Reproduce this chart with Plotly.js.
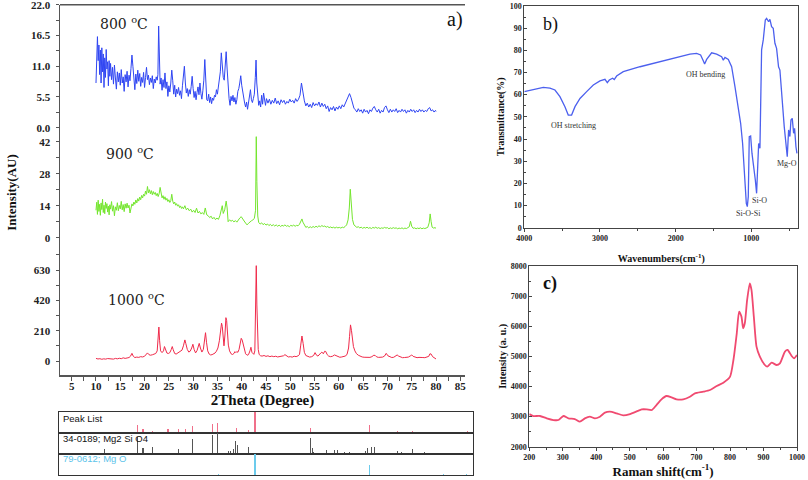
<!DOCTYPE html>
<html>
<head>
<meta charset="utf-8">
<script src="https://cdn.plot.ly/plotly-3.0.1.min.js"></script>
<style>html,body{margin:0;padding:0;background:#fff;}#chart{width:808px;height:480px;}</style>
</head>
<body>
<div id="chart"></div>
<script>
// ---------- XRD patterns (2theta, intensity) ----------
const xrd800 = [[10.0,8.0],[10.15,11.5],[10.3,16.3],[10.45,12.0],[10.6,14.8],[10.75,9.5],[10.9,13.9],[11.05,8.0],[11.2,14.3],[11.35,10.0],[11.5,13.2],[11.65,7.2],[11.8,12.5],[11.95,9.0],[12.1,14.0],[12.25,10.5],[12.4,11.8],[12.55,7.5],[12.7,12.0],[12.85,9.2],[13.0,11.5],[13.2,8.6],[13.4,10.8],[13.6,7.8],[13.8,11.2],[14.0,8.9],[14.2,6.9],[14.4,10.0],[14.6,8.2],[14.8,9.8],[15.0,7.6],[15.2,10.4],[15.4,8.0],[15.6,9.1],[15.8,6.5],[16.0,9.5],[16.2,8.2],[16.4,10.1],[16.6,7.3],[16.8,9.4],[17.0,8.4],[17.2,10.6],[17.4,13.0],[17.6,11.0],[17.8,9.2],[18.0,6.8],[18.2,9.6],[18.4,7.9],[18.6,10.3],[18.8,8.3],[19.0,9.7],[19.2,7.4],[19.4,9.0],[19.6,8.1],[19.8,9.9],[20.0,7.2],[20.2,9.0],[20.4,10.8],[20.6,8.6],[20.8,9.4],[21.0,7.7],[21.2,8.9],[21.4,8.1],[21.6,9.3],[21.8,7.0],[22.0,8.7],[22.2,8.0],[22.4,9.1],[22.6,8.5],[22.75,9.5],[22.9,18.2],[23.05,10.0],[23.2,7.8],[23.4,8.9],[23.6,6.7],[23.8,8.6],[24.0,7.2],[24.2,9.8],[24.4,7.0],[24.6,8.2],[24.8,5.6],[25.0,7.5],[25.2,6.4],[25.4,8.0],[25.6,10.3],[25.8,8.4],[26.0,6.0],[26.2,7.6],[26.4,5.5],[26.6,6.9],[26.8,6.1],[27.0,7.2],[27.2,5.8],[27.4,6.6],[27.6,5.2],[27.8,7.5],[28.0,9.0],[28.2,11.0],[28.4,8.0],[28.6,6.2],[28.8,7.0],[29.0,5.6],[29.2,6.8],[29.4,6.0],[29.6,7.4],[29.8,9.2],[30.0,7.0],[30.2,5.4],[30.4,6.5],[30.6,5.0],[30.8,6.3],[31.0,7.3],[31.2,5.9],[31.4,8.0],[31.6,6.1],[31.8,5.1],[32.0,6.6],[32.2,8.5],[32.4,12.2],[32.6,7.2],[32.8,5.0],[33.0,4.8],[33.2,6.0],[33.4,4.5],[33.6,5.5],[33.8,4.3],[34.0,5.3],[34.2,4.9],[34.4,5.8],[34.6,5.5],[34.8,6.8],[35.0,6.0],[35.2,7.5],[35.4,8.8],[35.6,10.0],[35.8,13.4],[36.0,11.0],[36.2,9.0],[36.4,8.5],[36.6,10.5],[36.8,13.6],[37.0,10.5],[37.2,7.0],[37.4,5.2],[37.6,4.0],[37.8,5.6],[38.0,4.8],[38.2,5.8],[38.4,4.6],[38.6,5.4],[38.8,4.2],[39.0,5.0],[39.2,6.5],[39.4,7.0],[39.6,8.0],[39.8,9.3],[40.0,7.6],[40.2,6.2],[40.4,5.0],[40.6,4.4],[40.8,3.7],[41.0,4.6],[41.2,3.3],[41.4,4.4],[41.6,5.5],[41.8,6.8],[42.0,5.0],[42.2,4.5],[42.4,5.2],[42.6,6.0],[42.8,9.0],[42.95,12.1],[43.1,8.0],[43.3,5.0],[43.5,4.0],[43.7,4.8],[43.9,3.7],[44.1,5.8],[44.3,4.2],[44.5,6.2],[44.7,4.6],[44.9,4.0],[45.1,5.2],[45.4,4.4],[45.7,5.1],[46.0,4.2],[46.3,4.9],[46.6,4.4],[46.9,5.3],[47.2,4.3],[47.5,4.8],[47.8,4.1],[48.1,5.0],[48.4,4.5],[48.7,4.9],[49.0,4.2],[49.3,4.7],[49.6,4.4],[49.9,5.1],[50.2,4.6],[50.5,4.9],[50.8,4.4],[51.1,5.2],[51.4,4.7],[51.7,5.1],[52.0,5.8],[52.3,8.0],[52.6,6.1],[52.9,4.8],[53.2,3.9],[53.5,4.4],[53.8,3.7],[54.1,4.2],[54.4,3.6],[54.7,4.5],[55.0,3.9],[55.3,4.3],[55.6,4.0],[55.9,4.6],[56.2,3.7],[56.5,4.4],[56.8,3.8],[57.1,4.2],[57.4,3.4],[57.7,3.9],[58.0,2.9],[58.3,3.6],[58.6,3.2],[58.9,3.8],[59.2,3.0],[59.5,3.7],[59.8,3.3],[60.1,3.9],[60.4,3.4],[60.7,4.1],[61.0,3.7],[61.3,4.3],[61.6,4.8],[61.9,5.6],[62.2,6.1],[62.5,5.4],[62.8,4.3],[63.1,3.5],[63.4,3.2],[63.7,2.8],[64.0,3.4],[64.3,2.9],[64.6,3.2],[64.9,2.6],[65.2,3.3],[65.5,2.8],[65.8,3.1],[66.1,2.5],[66.4,3.2],[66.7,2.9],[67.0,3.5],[67.3,3.8],[67.6,3.2],[67.9,2.8],[68.2,3.3],[68.5,2.6],[68.8,3.1],[69.1,2.8],[69.4,3.6],[69.7,3.9],[70.0,3.2],[70.3,2.7],[70.6,3.3],[70.9,2.8],[71.2,3.2],[71.5,2.9],[71.8,3.4],[72.1,2.7],[72.4,3.1],[72.7,2.8],[73.0,3.3],[73.3,2.9],[73.6,3.2],[73.9,2.6],[74.2,3.1],[74.5,2.8],[74.8,3.3],[75.1,2.9],[75.4,3.2],[75.7,2.7],[76.0,3.1],[76.3,2.8],[76.6,3.3],[76.9,2.9],[77.2,3.2],[77.5,2.8],[77.8,3.1],[78.1,2.9],[78.4,3.4],[78.7,3.6],[79.0,3.0],[79.3,3.2],[79.6,2.8],[79.9,3.1],[80.0,2.9]];

const xrd900 = [[10.0,12.0],[10.15,15.5],[10.3,10.2],[10.45,16.4],[10.6,11.5],[10.75,14.6],[10.9,9.8],[11.05,15.2],[11.2,12.3],[11.35,16.8],[11.5,11.0],[11.65,14.2],[11.8,10.5],[11.95,15.6],[12.1,12.8],[12.25,14.9],[12.4,11.2],[12.55,13.8],[12.7,10.0],[12.85,14.4],[13.0,12.5],[13.2,15.8],[13.4,11.6],[13.6,14.0],[13.8,9.6],[14.0,13.5],[14.2,12.0],[14.4,15.3],[14.6,11.8],[14.8,14.1],[15.0,12.6],[15.2,15.9],[15.4,12.2],[15.6,14.5],[15.8,11.4],[16.0,14.8],[16.2,12.9],[16.4,15.1],[16.6,13.0],[16.8,14.2],[17.0,10.8],[17.2,13.6],[17.4,14.8],[17.6,13.9],[17.8,15.6],[18.0,14.6],[18.2,16.5],[18.4,15.2],[18.6,17.1],[18.8,16.0],[19.0,17.8],[19.2,16.6],[19.4,18.5],[19.6,17.4],[19.8,19.0],[20.0,18.2],[20.2,20.4],[20.4,19.0],[20.6,22.4],[20.8,19.6],[21.0,21.0],[21.2,19.2],[21.4,20.6],[21.6,18.8],[21.8,20.2],[22.0,19.0],[22.2,19.8],[22.4,18.4],[22.6,19.4],[22.8,18.0],[23.0,19.2],[23.2,22.0],[23.4,18.6],[23.6,17.4],[23.8,18.4],[24.0,16.8],[24.2,17.9],[24.4,16.4],[24.6,17.2],[24.8,15.8],[25.0,16.6],[25.2,15.4],[25.4,16.2],[25.6,19.0],[25.8,16.0],[26.0,14.8],[26.2,15.6],[26.4,14.2],[26.6,14.9],[26.8,13.8],[27.0,14.4],[27.2,13.2],[27.4,13.9],[27.6,12.8],[27.8,13.5],[28.0,12.6],[28.3,14.0],[28.6,12.2],[28.9,12.9],[29.2,11.8],[29.5,12.5],[29.8,11.2],[30.1,12.0],[30.4,11.0],[30.7,12.9],[31.0,10.8],[31.3,11.5],[31.6,10.4],[31.9,11.0],[32.2,10.2],[32.5,13.0],[32.8,10.0],[33.1,9.6],[33.4,8.8],[33.7,9.4],[34.0,8.2],[34.3,8.9],[34.6,7.9],[34.9,8.6],[35.2,8.0],[35.5,9.6],[35.8,12.0],[36.0,14.0],[36.2,10.6],[36.5,12.2],[36.8,16.0],[37.0,13.0],[37.2,7.0],[37.5,7.8],[37.8,7.2],[38.1,7.6],[38.4,6.9],[38.7,7.5],[39.0,6.8],[39.3,7.9],[39.6,8.6],[39.9,9.2],[40.2,8.0],[40.5,7.3],[40.8,6.4],[41.1,5.6],[41.4,6.3],[41.7,7.0],[42.0,7.4],[42.3,7.8],[42.6,8.4],[42.85,12.0],[43.0,44.2],[43.12,24.5],[43.3,9.5],[43.5,6.6],[43.8,6.0],[44.1,6.5],[44.4,5.7],[44.7,6.2],[45.0,5.5],[45.3,6.0],[45.6,5.3],[45.9,5.8],[46.2,5.2],[46.5,5.7],[46.8,5.1],[47.1,5.6],[47.4,5.0],[47.7,5.5],[48.0,4.9],[48.3,5.4],[48.6,5.1],[48.9,5.6],[49.2,5.0],[49.5,5.3],[49.8,4.8],[50.1,5.4],[50.4,5.1],[50.7,5.5],[51.0,5.0],[51.3,5.4],[51.6,5.2],[51.9,5.9],[52.2,7.2],[52.4,8.2],[52.6,6.8],[52.9,5.3],[53.2,4.5],[53.5,4.9],[53.8,4.3],[54.1,4.8],[54.4,4.4],[54.7,4.9],[55.0,4.5],[55.3,5.0],[55.6,4.6],[55.9,5.2],[56.2,4.8],[56.5,5.3],[56.8,4.9],[57.1,5.1],[57.4,4.6],[57.7,4.9],[58.0,4.4],[58.3,4.7],[58.6,4.3],[58.9,4.6],[59.2,4.2],[59.5,4.6],[59.8,4.3],[60.1,4.5],[60.4,4.2],[60.7,4.6],[61.0,4.4],[61.3,4.9],[61.6,5.6],[61.9,7.8],[62.15,13.0],[62.35,21.2],[62.55,15.0],[62.8,8.0],[63.1,5.6],[63.4,4.9],[63.7,4.5],[64.0,4.8],[64.3,4.3],[64.6,4.6],[64.9,4.1],[65.2,4.5],[65.5,4.2],[65.8,4.6],[66.1,4.1],[66.4,4.4],[66.7,4.0],[67.0,4.5],[67.3,4.2],[67.6,4.6],[67.9,4.1],[68.2,4.4],[68.5,4.0],[68.8,4.3],[69.1,4.1],[69.4,4.5],[69.7,4.2],[70.0,4.4],[70.3,3.9],[70.6,4.3],[70.9,4.0],[71.2,4.4],[71.5,4.1],[71.8,4.3],[72.1,3.9],[72.4,4.2],[72.7,4.0],[73.0,4.3],[73.3,3.9],[73.6,4.2],[73.9,4.0],[74.2,4.4],[74.5,4.8],[74.75,7.2],[75.0,5.0],[75.3,4.1],[75.6,4.3],[75.9,3.9],[76.2,4.2],[76.5,4.0],[76.8,4.3],[77.1,3.9],[77.4,4.2],[77.7,4.0],[78.0,4.3],[78.3,4.5],[78.6,6.5],[78.8,10.4],[79.0,7.0],[79.2,4.6],[79.5,4.2],[79.8,4.4],[80.0,4.1]];

const xrd1000 = [[10.0,18],[10.4,14],[10.8,16],[11.2,12],[11.6,15],[12.0,13],[12.4,17],[12.8,14],[13.2,16],[13.6,13],[14.0,18],[14.4,15],[14.8,19],[15.2,16],[15.6,22],[16.0,18],[16.4,21],[16.8,24],[17.1,33],[17.4,53],[17.7,32],[18.0,24],[18.4,27],[18.8,25],[19.2,30],[19.6,28],[20.0,33],[20.3,42],[20.6,56],[20.9,44],[21.2,40],[21.6,43],[22.0,46],[22.3,52],[22.6,70],[22.8,150],[22.95,235],[23.1,140],[23.3,70],[23.6,58],[23.9,70],[24.1,100],[24.3,75],[24.6,55],[24.9,52],[25.2,58],[25.5,80],[25.7,100],[25.9,78],[26.2,52],[26.5,48],[26.8,55],[27.1,60],[27.4,66],[27.7,75],[28.0,105],[28.3,146],[28.5,120],[28.8,80],[29.1,62],[29.4,68],[29.7,90],[29.95,116],[30.2,80],[30.5,56],[30.8,72],[31.05,105],[31.25,122],[31.5,90],[31.8,62],[32.1,80],[32.35,140],[32.55,196],[32.75,130],[33.0,70],[33.3,48],[33.6,42],[33.9,44],[34.2,48],[34.5,55],[34.8,68],[35.1,90],[35.4,140],[35.65,215],[35.85,262],[36.0,240],[36.15,160],[36.35,105],[36.55,180],[36.75,300],[36.9,280],[37.05,200],[37.25,110],[37.5,70],[37.8,50],[38.1,45],[38.4,52],[38.6,65],[38.8,58],[39.0,66],[39.2,60],[39.45,80],[39.7,130],[39.9,157],[40.1,145],[40.3,120],[40.5,80],[40.8,50],[41.1,40],[41.4,44],[41.7,70],[41.9,95],[42.1,60],[42.3,48],[42.5,46],[42.7,70],[42.85,300],[43.0,660],[43.12,388],[43.25,200],[43.4,80],[43.6,45],[43.9,36],[44.2,34],[44.6,38],[45.0,32],[45.4,36],[45.8,30],[46.2,34],[46.6,30],[47.0,33],[47.4,28],[47.8,31],[48.2,30],[48.6,36],[48.9,44],[49.2,34],[49.6,28],[50.0,30],[50.4,27],[50.8,33],[51.2,30],[51.6,36],[51.9,45],[52.15,110],[52.4,173],[52.65,120],[52.9,60],[53.2,38],[53.6,30],[54.0,27],[54.4,30],[54.8,38],[55.1,58],[55.4,40],[55.7,34],[56.0,42],[56.3,56],[56.5,62],[56.8,50],[57.1,68],[57.3,66],[57.6,44],[57.9,34],[58.3,30],[58.7,33],[59.1,42],[59.4,36],[59.8,28],[60.2,26],[60.6,28],[61.0,30],[61.4,35],[61.7,48],[62.0,90],[62.2,170],[62.4,250],[62.6,210],[62.8,140],[63.0,100],[63.3,70],[63.6,52],[64.0,40],[64.4,32],[64.8,28],[65.2,26],[65.6,24],[66.0,26],[66.4,25],[66.8,30],[67.2,40],[67.5,38],[67.8,28],[68.2,25],[68.6,24],[69.0,27],[69.4,34],[69.75,53],[70.1,36],[70.5,27],[70.9,24],[71.3,26],[71.7,33],[72.0,42],[72.3,34],[72.7,26],[73.1,23],[73.5,24],[73.9,26],[74.3,27],[74.7,35],[75.0,42],[75.3,32],[75.7,26],[76.1,23],[76.5,25],[76.9,22],[77.3,24],[77.7,23],[78.1,25],[78.5,32],[78.75,50],[79.0,48],[79.3,30],[79.6,22],[80.0,14]];

// ---------- reference stick patterns (2theta, relative intensity %) ----------
const peakListPos = [17.7,23.2,24.2,25.8,28.4,30.1,31.3,32.5,35.9,36.7,39.9,41.9,43.0,52.3,55.2,58.8,62.3,67.0,69.5,71.5,74.2,78.6];
const peakListInt = [5,38,16,10,18,16,20,30,43,46,21,15,100,21,5,5,36,7,8,5,5,8];
const mg2sio4Pos = [17.7,23.2,24.2,25.8,30.1,32.5,35.9,36.7,38.5,38.9,39.4,39.8,40.1,41.9,44.1,48.6,49.7,52.3,52.6,52.9,55.0,56.3,56.9,58.1,58.8,61.5,61.9,62.6,63.0,67.0,67.6,69.5,71.5,74.3,76.6,78.6];
const mg2sio4Int = [24,80,27,31,22,70,89,100,16,16,24,63,40,31,3,3,3,77,27,11,20,20,20,11,11,14,27,35,35,14,11,25,11,6,6,6];
const mgoPos = [36.9,43.0,62.3,74.6,78.5];
const mgoInt = [3,100,48,3,5];

// ---------- FTIR (wavenumber cm-1, transmittance %) ----------
const ftirWavenumber = [4000,3837,3749,3661,3595,3529,3463,3419,3375,3330,3264,3176,3088,3000,2934,2903,2877,2833,2811,2780,2692,2471,2251,2031,1811,1723,1670,1635,1617,1590,1524,1458,1392,1370,1348,1304,1260,1216,1172,1141,1115,1088,1066,1053,1040,1027,1009,991,965,947,930,917,903,886,864,842,815,798,771,754,732,710,688,666,640,622,600,578,565,547,525,507,490,476,459,441,428,410,397];
const ftirTransmittance = [61.4,62.7,63.3,63.0,62.1,59.1,54.6,50.8,50.8,54.6,58.3,61.4,64.4,66.2,66.9,65.4,66.6,67.4,66.8,68.4,70.4,72.6,74.4,76.4,78.3,78.6,77.9,75.3,73.8,75.9,78.9,78.3,77.1,75.6,76.8,75.9,72.6,63.6,54.6,47.1,38.0,24.5,11.0,9.5,14.0,41.1,41.4,33.5,27.5,21.5,15.5,24.5,38.0,35.8,80.2,84.7,93.7,94.4,92.9,94.0,90.7,89.9,83.2,80.9,72.6,71.1,60.6,48.6,45.6,39.5,32.0,44.1,41.1,48.6,49.3,42.6,44.8,36.5,33.5];

// ---------- Raman (shift cm-1, intensity a.u.) ----------
const ramanShift = [200,212,232,252,272,287,302,317,336,351,366,381,396,411,426,441,461,481,501,521,536,551,566,580,595,610,625,640,660,680,695,720,740,760,780,800,810,820,827,834,839,844,851,859,864,871,879,889,904,911,924,939,949,964,972,984,991,1000];
const ramanIntensity = [3085,3019,3019,2941,2886,2886,3019,2941,2919,2831,2941,2997,2941,2997,3130,3163,3107,3041,3085,3174,3240,3240,3218,3384,3572,3683,3639,3572,3572,3661,3772,3827,3883,4016,4126,4326,4879,5765,6485,6319,5931,6097,6873,7426,7205,6319,5322,4990,4713,4658,4791,4713,4769,5156,5211,5012,4935,5045];

const col = arr => i => arr.map(p => p[i]);
const serif = 'Liberation Serif';
const axisCol = '#555';

const traces = [
  {type:'scatter', mode:'lines', x:col(xrd800)(0), y:col(xrd800)(1), xaxis:'x', yaxis:'y', line:{color:'#2f45f2', width:1}},
  {type:'scatter', mode:'lines', x:col(xrd900)(0), y:col(xrd900)(1), xaxis:'x', yaxis:'y2', line:{color:'#74e62e', width:1}},
  {type:'scatter', mode:'lines', x:col(xrd1000)(0), y:col(xrd1000)(1), xaxis:'x', yaxis:'y3', line:{color:'#f02a4a', width:1}},
  {type:'bar', x:peakListPos, y:peakListInt, xaxis:'x2', yaxis:'y4', width:0.18, marker:{color:'#f0708a', line:{width:0}}},
  {type:'bar', x:mg2sio4Pos, y:mg2sio4Int, xaxis:'x3', yaxis:'y5', width:0.18, marker:{color:'#555555', line:{width:0}}},
  {type:'bar', x:mgoPos, y:mgoInt, xaxis:'x4', yaxis:'y6', width:0.18, marker:{color:'#6ccbec', line:{width:0}}},
  {type:'scatter', mode:'lines', x:ftirWavenumber, y:ftirTransmittance, xaxis:'x5', yaxis:'y7', line:{color:'#4c60ee', width:1.3}},
  {type:'scatter', mode:'lines', x:ramanShift, y:ramanIntensity, xaxis:'x6', yaxis:'y8', line:{color:'#f04a70', width:1.8, shape:'spline', smoothing:0.6}}
];

const W = 808, H = 480;
const px = v => v / W;
const py = v => 1 - v / H;

const tickFontA = {family:serif, size:11, weight:'bold', color:'#222'};
const tickFontB = {family:serif, size:8, weight:'bold', color:'#222'};

function aY(domain, range, dtick, minor, fmt){
  return {domain:domain, range:range, anchor:'x', showline:true, linecolor:axisCol, linewidth:1.5,
    ticks:'outside', ticklen:3, tickcolor:axisCol, tick0:0, dtick:dtick, tickformat:fmt,
    minor:{dtick:minor, ticks:'outside', ticklen:3, tickcolor:axisCol},
    showgrid:false, zeroline:false, tickfont:tickFontA, ticklabelstandoff:3, ticklabeloverflow:'allow'};
}
function strip(anchor){
  return {domain:[px(59), px(473)], range:[10.1, 79.6], anchor:anchor, showline:true, mirror:true,
    linecolor:'#333', linewidth:1.2, showticklabels:false, ticks:'', showgrid:false, zeroline:false};
}
function stripY(anchor, domain){
  return {domain:domain, range:[0, 100], anchor:anchor, showline:true, mirror:true,
    linecolor:'#333', linewidth:1.2, showticklabels:false, ticks:'', showgrid:false, zeroline:false};
}
function note(text, x, y, font, xanchor){
  return {text:text, x:px(x), y:py(y), xref:'paper', yref:'paper', showarrow:false,
    xanchor:xanchor || 'center', yanchor:'middle', font:font};
}

const tempFont = {family:'DejaVu Serif', size:14, color:'#222'};
const bandFont = {family:serif, size:8, color:'#333'};
const stripFont = {family:'Liberation Sans', size:9.5, color:'#111'};

const layout = {
  width:W, height:H, margin:{l:0, r:0, t:0, b:0}, paper_bgcolor:'#fff', plot_bgcolor:'rgba(0,0,0,0)',
  showlegend:false, bargap:0,
  xaxis:{domain:[px(60), px(465)], range:[2.59, 85.97], anchor:'y3', showline:true, linecolor:axisCol, linewidth:1.5,
    ticks:'outside', ticklen:4, tickcolor:axisCol, tick0:0, dtick:5,
    minor:{dtick:2.5, ticks:'outside', ticklen:4, tickcolor:axisCol},
    showgrid:false, zeroline:false, tickfont:tickFontA, ticklabelstandoff:-4,
    title:{text:'2Theta (Degree)', font:{family:serif, size:15, weight:'bold', color:'#111'}, standoff:1}},
  yaxis: aY([py(133), py(4.67)], [-0.95, 22.02], 5.5, 2.75, '.1f'),
  yaxis2: Object.assign(aY([py(252), py(133)], [-6.26, 45.8], 14, 7, 'd'),
    {title:{text:'Intensity(AU)', font:{family:serif, size:13, weight:'bold', color:'#111'}, standoff:19}}),
  yaxis3: aY([py(375), py(252)], [-96.9, 754.6], 210, 105, 'd'),
  xaxis2: strip('y4'), xaxis3: strip('y5'), xaxis4: strip('y6'),
  yaxis4: stripY('x2', [py(432.7), py(412)]),
  yaxis5: stripY('x3', [py(454), py(432.7)]),
  yaxis6: stripY('x4', [py(475), py(454)]),
  xaxis5:{domain:[px(524.3), px(798.3)], range:[4000, 379], anchor:'y7', showline:true, mirror:true, linecolor:'#444', linewidth:1,
    ticks:'outside', ticklen:3, tickcolor:'#444', tick0:0, dtick:1000,
    minor:{dtick:500, ticks:'outside', ticklen:2, tickcolor:'#444'},
    showgrid:false, zeroline:false, tickfont:tickFontB,
    title:{text:'Wavenumbers(cm<sup>-1</sup>)', font:{family:serif, size:10, weight:'bold', color:'#111'}, standoff:12}},
  yaxis7:{domain:[py(227.7), py(6)], range:[0, 100], anchor:'x5', showline:true, mirror:true, linecolor:'#444', linewidth:1,
    ticks:'inside', ticklen:3, tickcolor:'#444', tick0:0, dtick:10,
    minor:{dtick:5, ticks:'inside', ticklen:2, tickcolor:'#444'},
    showgrid:false, zeroline:false, tickfont:tickFontB,
    title:{text:'Transmittance(%)', font:{family:serif, size:10, weight:'bold', color:'#111'}, standoff:3}},
  xaxis6:{domain:[px(529.3), px(797)], range:[200, 1000], anchor:'y8', showline:true, mirror:true, linecolor:'#444', linewidth:1,
    ticks:'outside', ticklen:3, tickcolor:'#444', tick0:0, dtick:100,
    minor:{dtick:50, ticks:'outside', ticklen:2, tickcolor:'#444'},
    showgrid:false, zeroline:false, tickfont:tickFontB,
    title:{text:'Raman shift(cm<sup>-1</sup>)', font:{family:serif, size:13, weight:'bold', color:'#111'}, standoff:3}},
  yaxis8:{domain:[py(446.7), py(266)], range:[2000, 8000], anchor:'x6', showline:true, mirror:true, linecolor:'#444', linewidth:1,
    ticks:'inside', ticklen:3, tickcolor:'#444', tick0:0, dtick:1000,
    minor:{dtick:500, ticks:'inside', ticklen:2, tickcolor:'#444'},
    showgrid:false, zeroline:false, tickfont:tickFontB,
    title:{text:'Intensity (a. u.)', font:{family:serif, size:10, weight:'bold', color:'#111'}, standoff:2}},
  shapes:[
    {type:'line', xref:'paper', yref:'paper', x0:px(60), x1:px(465), y0:py(4.67), y1:py(4.67), line:{color:axisCol, width:1.5}}
  ],
  annotations:[
    note('800 <sup>o</sup>C', 124, 23, tempFont),
    note('900 <sup>o</sup>C', 130, 153, tempFont),
    note('1000 <sup>o</sup>C', 136, 299, tempFont),
    note('a)', 455, 20, {family:serif, size:20, color:'#111'}),
    note('b)', 550, 24, {family:serif, size:18, color:'#111'}),
    note('c)', 550, 283, {family:serif, size:18, weight:'bold', color:'#111'}),
    note('OH stretching', 573, 125, bandFont),
    note('OH bending', 705, 74, bandFont),
    note('Si-O', 759, 200, bandFont),
    note('Si-O-Si', 748, 213, bandFont),
    note('Mg-O', 787, 163, bandFont),
    note('Peak List', 61, 418, stripFont, 'left'),
    note('34-0189; Mg2 Si O4', 61, 438.5, stripFont, 'left'),
    note('79-0612; Mg O', 61, 458.5, {family:'Liberation Sans', size:9.5, color:'#5bc3ea'}, 'left')
  ]
};

Plotly.newPlot('chart', traces, layout, {staticPlot:true, displayModeBar:false});
</script>
</body>
</html>
